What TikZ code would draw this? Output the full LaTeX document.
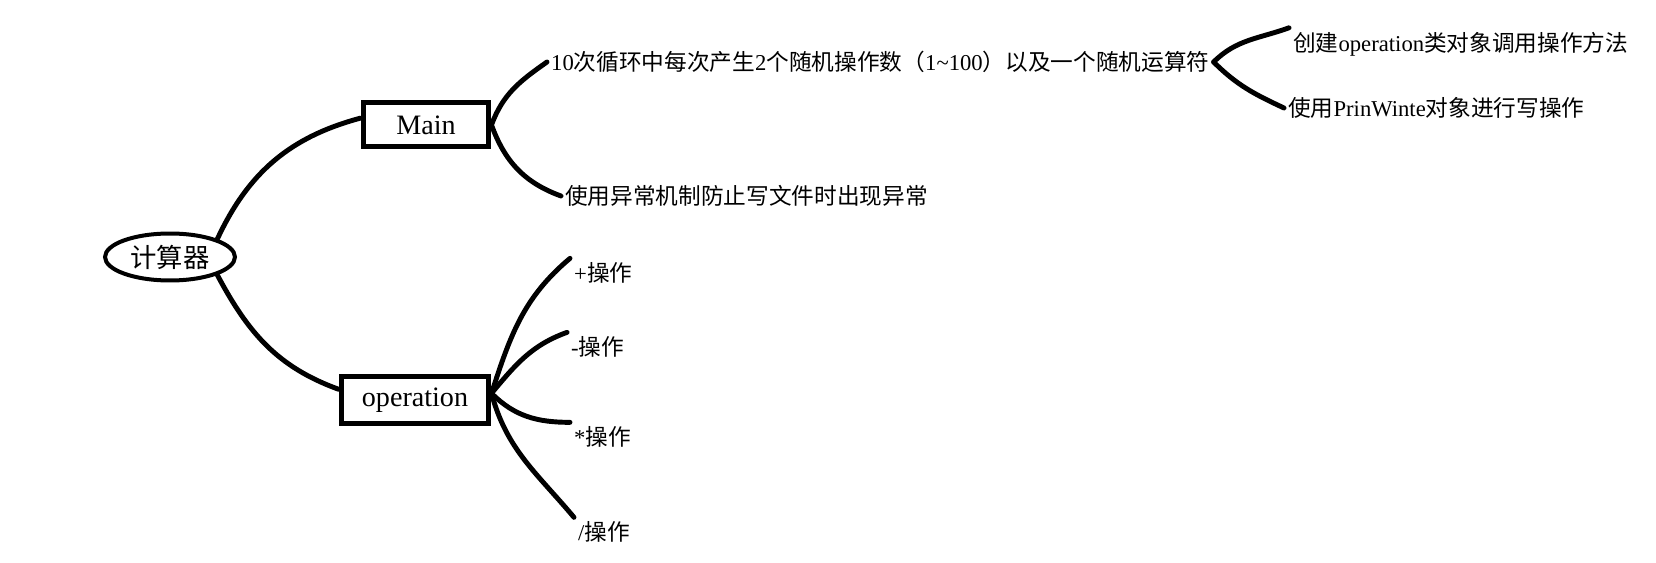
\documentclass[tikz,border=0pt]{standalone}
\usepackage{fontspec}
\setmainfont{Liberation Serif}
\newfontfamily\cjk{Noto Sans CJK SC}
\newcommand\zh[1]{{\cjk #1}}
\usetikzlibrary{shapes.geometric}

\begin{document}
\begin{tikzpicture}[x=0.02cm,y=-0.02cm,line width=2.8pt,line cap=round,
  every node/.style={inner sep=1pt},
  box/.style={draw,rectangle,line width=0.1cm,inner sep=0pt,font=\fontsize{16}{18}\selectfont},
  hub/.style={draw,ellipse,line width=0.08cm,inner sep=0pt,minimum width=2.6cm,minimum height=0.94cm,font=\cjk\fontsize{15}{17}\selectfont},
  leaf/.style={anchor=west,font=\fontsize{12.9}{15}\selectfont}]
\useasboundingbox (0,0) rectangle (1656,563);
\node[hub] (root) at (170,257) {计算器};
\node[box,minimum width=2.52cm,minimum height=0.88cm] (main) at (426,125) {Main};
\node[box,minimum width=2.96cm,minimum height=0.96cm] (op) at (415,400) {\raisebox{-3pt}{operation}};
\node[leaf] (loop) at (547,62) {10\zh{次循环中每次产生}2\zh{个随机操作数（}1\textasciitilde100\zh{）以及一个随机运算符}};
\node[leaf] (guard) at (561,196) {\zh{使用异常机制防止写文件时出现异常}};
\node[leaf] (mk) at (1289,44) {\zh{创建}operation\zh{类对象调用操作方法}};
\node[leaf] (pw) at (1284,108) {\zh{使用}PrinWinte\zh{对象进行写操作}};
\node[leaf] (add) at (570,273) {+\zh{操作}};
\node[leaf] (sub) at (567,347) {-\zh{操作}};
\node[leaf] (mul) at (570,437) {*\zh{操作}};
\node[leaf] (div) at (574,532) {/\zh{操作}};
\draw (root.north east) to[out=65,in=195] (main.174);
\draw (root.south east) to[out=-62,in=160] (op.172);
\draw (main.east) to[out=70,in=215] (loop.west);
\draw (main.east) to[out=-70,in=160] (guard.west);
\draw (loop.east) to[out=45,in=200] (mk.north west);
\draw (loop.east) to[out=-45,in=155] (pw.west);
\draw (op.5) to[out=72,in=220] (add.north west);
\draw (op.5) to[out=50,in=200] (sub.north west);
\draw (op.5) to[out=-45,in=180] (mul.north west);
\draw (op.5) to[out=-75,in=130] (div.north west);
\end{tikzpicture}
\end{document}
